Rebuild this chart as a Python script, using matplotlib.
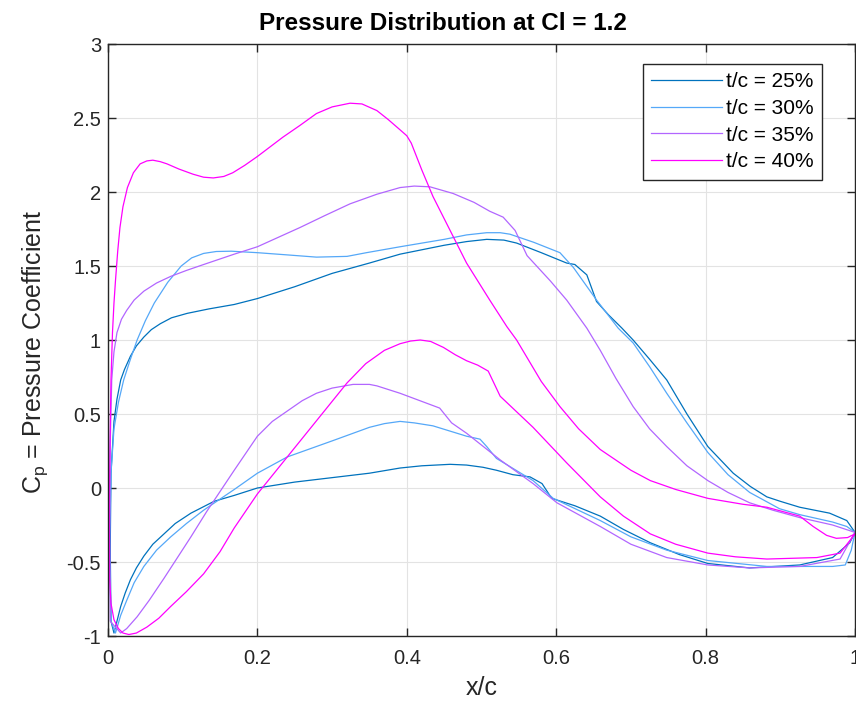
import matplotlib
matplotlib.use("Agg")
import matplotlib.pyplot as plt

# ---------------- data ----------------
labels = ["t/c = 25%", "t/c = 30%", "t/c = 35%", "t/c = 40%"]
colors = ["#0072BD", "#55A8F8", "#B266FF", "#FF00FF"]

# upper surface, leading edge -> trailing edge
up25_x = [0.004, 0.003, 0.004, 0.008, 0.012, 0.017, 0.022, 0.030, 0.038, 0.048, 0.058, 0.070, 0.085, 0.106,
          0.135, 0.169, 0.20, 0.25, 0.30, 0.35, 0.391, 0.45, 0.48, 0.507, 0.53, 0.547, 0.580, 0.614, 0.625,
          0.641, 0.654, 0.670, 0.688, 0.703, 0.725, 0.748, 0.775, 0.803, 0.837, 0.860, 0.882, 0.90, 0.926,
          0.966, 0.989, 1.0]
up25_y = [-0.90, -0.40, 0.10, 0.45, 0.60, 0.73, 0.80, 0.89, 0.96, 1.02, 1.07, 1.11, 1.15, 1.18,
          1.21, 1.24, 1.28, 1.36, 1.45, 1.52, 1.58, 1.64, 1.665, 1.68, 1.675, 1.655, 1.59, 1.52, 1.51,
          1.44, 1.26, 1.17, 1.08, 1.00, 0.87, 0.73, 0.50, 0.28, 0.10, 0.01, -0.06, -0.09, -0.13,
          -0.17, -0.22, -0.30]
# lower surface, stagnation point -> trailing edge
lo25_x = [0.008, 0.012, 0.017, 0.023, 0.030, 0.038, 0.048, 0.060, 0.075, 0.090, 0.111, 0.142, 0.169, 0.20,
          0.25, 0.30, 0.35, 0.391, 0.42, 0.458, 0.48, 0.502, 0.52, 0.542, 0.565, 0.581, 0.594, 0.625, 0.659,
          0.69, 0.726, 0.765, 0.803, 0.859, 0.926, 0.970, 0.993, 1.0]
lo25_y = [-0.98, -0.90, -0.80, -0.71, -0.62, -0.54, -0.46, -0.38, -0.31, -0.24, -0.17, -0.09, -0.05, 0.0,
          0.04, 0.07, 0.10, 0.135, 0.15, 0.16, 0.155, 0.14, 0.12, 0.09, 0.075, 0.03, -0.07, -0.12, -0.19,
          -0.28, -0.37, -0.45, -0.51, -0.54, -0.52, -0.47, -0.37, -0.30]

up30_x = [0.004, 0.002, 0.004, 0.008, 0.014, 0.021, 0.030, 0.039, 0.050, 0.062, 0.080, 0.098, 0.112, 0.128,
          0.145, 0.165, 0.20, 0.24, 0.279, 0.32, 0.346, 0.391, 0.45, 0.48, 0.507, 0.525, 0.538, 0.570,
          0.605, 0.623, 0.654, 0.683, 0.703, 0.725, 0.748, 0.775, 0.803, 0.83, 0.859, 0.899, 0.926, 0.970,
          0.989, 1.0]
up30_y = [-0.90, -0.40, 0.10, 0.40, 0.58, 0.73, 0.87, 1.00, 1.13, 1.25, 1.39, 1.50, 1.555, 1.585,
          1.598, 1.60, 1.59, 1.575, 1.56, 1.565, 1.59, 1.63, 1.68, 1.71, 1.725, 1.725, 1.715, 1.66,
          1.59, 1.49, 1.27, 1.08, 0.98, 0.82, 0.64, 0.44, 0.24, 0.09, -0.03, -0.14, -0.18, -0.23,
          -0.26, -0.30]
lo30_x = [0.010, 0.017, 0.025, 0.035, 0.048, 0.065, 0.084, 0.105, 0.128, 0.169, 0.20, 0.24, 0.301, 0.35,
          0.37, 0.391, 0.41, 0.435, 0.480, 0.498, 0.507, 0.520, 0.569, 0.596, 0.659, 0.70, 0.748, 0.803,
          0.882, 0.970, 0.987, 0.995, 1.0]
lo30_y = [-0.98, -0.86, -0.76, -0.64, -0.53, -0.42, -0.33, -0.24, -0.15, -0.01, 0.10, 0.21, 0.32, 0.41,
          0.435, 0.45, 0.44, 0.42, 0.35, 0.33, 0.28, 0.20, 0.05, -0.07, -0.22, -0.33, -0.42, -0.49,
          -0.53, -0.53, -0.52, -0.42, -0.30]

up35_x = [0.003, 0.002, 0.003, 0.005, 0.008, 0.012, 0.018, 0.025, 0.035, 0.048, 0.065, 0.084, 0.105, 0.128,
          0.169, 0.20, 0.257, 0.29, 0.324, 0.36, 0.391, 0.41, 0.431, 0.462, 0.49, 0.511, 0.529, 0.545,
          0.561, 0.592, 0.614, 0.641, 0.659, 0.68, 0.703, 0.725, 0.748, 0.775, 0.803, 0.83, 0.859, 0.89,
          0.926, 0.970, 1.0]
up35_y = [-0.90, -0.30, 0.30, 0.73, 0.92, 1.05, 1.14, 1.20, 1.27, 1.33, 1.385, 1.43, 1.47, 1.51,
          1.58, 1.63, 1.76, 1.84, 1.92, 1.985, 2.03, 2.04, 2.035, 1.99, 1.93, 1.87, 1.83, 1.74,
          1.57, 1.40, 1.27, 1.08, 0.93, 0.74, 0.55, 0.40, 0.28, 0.15, 0.05, -0.03, -0.10, -0.15,
          -0.20, -0.25, -0.30]
lo35_x = [0.017, 0.025, 0.039, 0.055, 0.075, 0.111, 0.132, 0.169, 0.20, 0.22, 0.24, 0.26, 0.279, 0.30,
          0.328, 0.35, 0.36, 0.391, 0.444, 0.46, 0.48, 0.525, 0.569, 0.601, 0.659, 0.70, 0.748, 0.803,
          0.859, 0.926, 0.980, 1.0]
lo35_y = [-0.98, -0.95, -0.87, -0.76, -0.61, -0.33, -0.16, 0.12, 0.35, 0.45, 0.52, 0.59, 0.64, 0.675,
          0.70, 0.70, 0.69, 0.64, 0.54, 0.44, 0.37, 0.19, 0.03, -0.10, -0.26, -0.38, -0.47, -0.52,
          -0.54, -0.53, -0.48, -0.30]

up40_x = [0.002, 0.003, 0.004, 0.006, 0.008, 0.010, 0.013, 0.016, 0.020, 0.026, 0.034, 0.043, 0.052, 0.060,
          0.070, 0.079, 0.095, 0.114, 0.128, 0.141, 0.155, 0.167, 0.183, 0.20, 0.234, 0.257, 0.279, 0.30,
          0.324, 0.34, 0.36, 0.375, 0.391, 0.40, 0.406, 0.413, 0.42, 0.435, 0.48, 0.511, 0.534, 0.547,
          0.58, 0.605, 0.63, 0.659, 0.70, 0.726, 0.76, 0.803, 0.85, 0.882, 0.926, 0.944, 0.962, 0.975,
          0.99, 1.0]
up40_y = [0.0, 0.40, 0.73, 1.05, 1.25, 1.40, 1.60, 1.76, 1.90, 2.03, 2.13, 2.19, 2.21, 2.215,
          2.205, 2.19, 2.155, 2.12, 2.10, 2.095, 2.105, 2.13, 2.18, 2.24, 2.37, 2.45, 2.53, 2.575,
          2.60, 2.595, 2.55, 2.49, 2.42, 2.38, 2.33, 2.24, 2.15, 1.97, 1.52, 1.27, 1.09, 1.00,
          0.72, 0.55, 0.40, 0.26, 0.12, 0.05, -0.01, -0.07, -0.11, -0.13, -0.19, -0.26, -0.32, -0.34,
          -0.335, -0.31]
lo40_x = [0.002, 0.004, 0.008, 0.014, 0.020, 0.028, 0.038, 0.052, 0.068, 0.084, 0.105, 0.128, 0.150, 0.169,
          0.20, 0.24, 0.28, 0.32, 0.345, 0.37, 0.391, 0.405, 0.418, 0.432, 0.449, 0.465, 0.48, 0.495,
          0.509, 0.525, 0.569, 0.614, 0.659, 0.69, 0.726, 0.76, 0.803, 0.84, 0.882, 0.949, 0.98, 1.0]
lo40_y = [-0.60, -0.78, -0.89, -0.95, -0.98, -0.99, -0.98, -0.94, -0.88, -0.80, -0.70, -0.58, -0.43, -0.27,
          -0.04, 0.21, 0.46, 0.71, 0.84, 0.93, 0.975, 0.993, 1.00, 0.99, 0.95, 0.90, 0.86, 0.83,
          0.79, 0.62, 0.41, 0.17, -0.06, -0.19, -0.31, -0.38, -0.44, -0.465, -0.48, -0.47, -0.44, -0.31]

series = [
    (up25_x, up25_y, lo25_x, lo25_y),
    (up30_x, up30_y, lo30_x, lo30_y),
    (up35_x, up35_y, lo35_x, lo35_y),
    (up40_x, up40_y, lo40_x, lo40_y),
]

# ---------------- styling ----------------
plt.rcParams["font.family"] = ["Liberation Sans", "DejaVu Sans"]
plt.rcParams["mathtext.fontset"] = "custom"
plt.rcParams["mathtext.rm"] = "Liberation Sans"

fig = plt.figure(figsize=(8.56, 7.04), dpi=100)
ax = fig.add_axes([108 / 856, 68 / 704, 747 / 856, 592 / 704])

for (ux, uy, lx, ly), c, lab in zip(series, colors, labels):
    xs = list(reversed(ux)) + list(lx)
    ys = list(reversed(uy)) + list(ly)
    ax.plot(xs, ys, color=c, lw=0.9, label=lab, solid_joinstyle="round")

ax.set_xlim(0, 1)
ax.set_ylim(-1, 3)
ax.set_xticks([0, 0.2, 0.4, 0.6, 0.8, 1])
ax.set_xticklabels(["0", "0.2", "0.4", "0.6", "0.8", "1"])
ax.set_yticks([-1, -0.5, 0, 0.5, 1, 1.5, 2, 2.5, 3])
ax.set_yticklabels(["-1", "-0.5", "0", "0.5", "1", "1.5", "2", "2.5", "3"])

ax.grid(True, color="#E3E3E3", lw=0.8)
ax.set_axisbelow(True)
for s in ax.spines.values():
    s.set_color("#262626")
    s.set_linewidth(1.0)
ax.tick_params(direction="in", length=6, width=1.0, color="#262626",
               top=True, right=True, labelsize=14.5, labelcolor="#262626")
ax.tick_params(axis="x", pad=9)
ax.tick_params(axis="y", pad=5)

ax.set_title("Pressure Distribution at Cl = 1.2", fontsize=17.5, fontweight="bold",
             x=(443 - 108) / 747, pad=10)
ax.set_xlabel("x/c", fontsize=18, color="#262626", labelpad=6)
ax.set_ylabel("C$_{\\rm p}$ = Pressure Coefficient", fontsize=18, color="#262626", labelpad=12)
ax.yaxis.label.set_y(0.48)

leg = ax.legend(loc="upper left", bbox_to_anchor=((643 - 108) / 747, (636 - 64) / 592),
                borderaxespad=0, fontsize=15, handlelength=3.37, handletextpad=0.2,
                labelspacing=0.37, fancybox=False, framealpha=1, edgecolor="#262626",
                borderpad=0.4)
leg.get_frame().set_linewidth(1.0)

fig.savefig("out.png", dpi=100)
